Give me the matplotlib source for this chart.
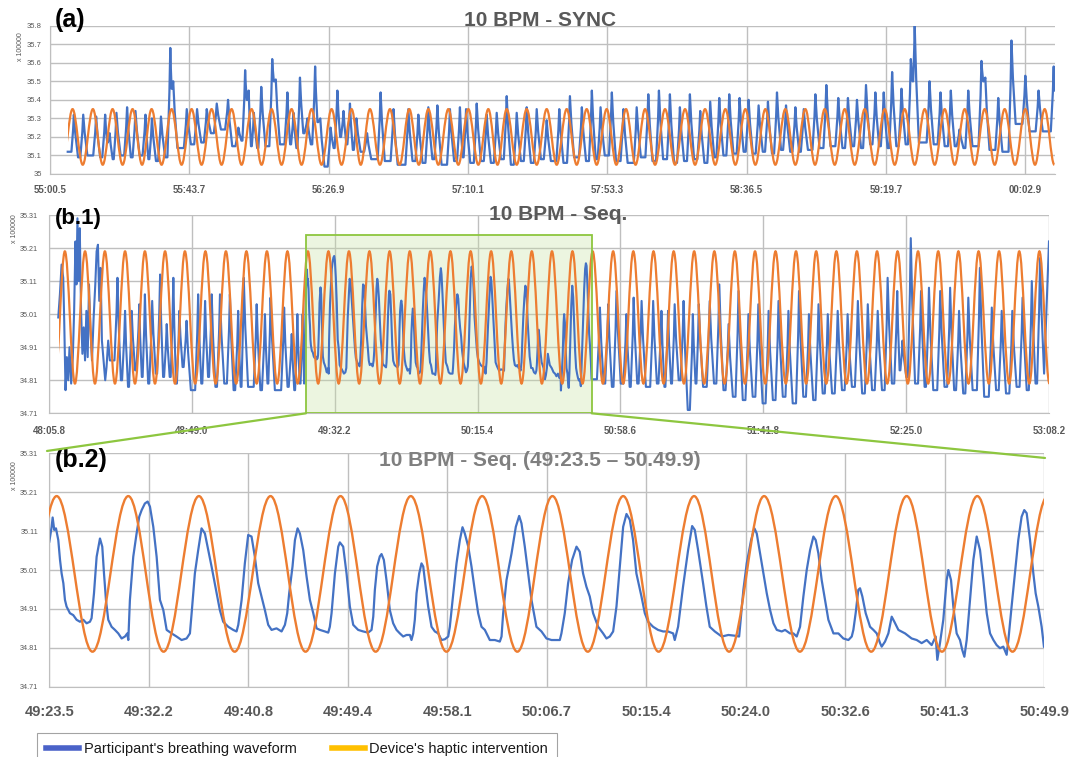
import numpy as np
import matplotlib
matplotlib.use("Agg")
import matplotlib.pyplot as plt
from matplotlib.path import Path
from matplotlib.patches import PathPatch, Rectangle, ConnectionPatch
from matplotlib.lines import Line2D

plt.rcParams['font.family'] = ['Liberation Sans', 'DejaVu Sans']

BLUE = "#4472C4"
ORANGE = "#ED7D31"
GRID = "#BFBFBF"
TXT = "#595959"
GREEN = "#8DC63F"

# -----------------------------------------------------------------------
# Data (seconds from the first tick of each panel, sensor value / 1e5)
# -----------------------------------------------------------------------
# (a) 10 BPM - SYNC, t = 0 at 55:00.5
a_ticks = [0, 43.2, 86.4, 129.6, 172.8, 216.0, 259.2, 302.4]
a_tick_labels = ["55:00.5", "55:43.7", "56:26.9", "57:10.1", "57:53.3",
                 "58:36.5", "59:19.7", "00:02.9"]
a_yticks = [35.0, 35.1, 35.2, 35.3, 35.4, 35.5, 35.6, 35.7, 35.8]
a_ytick_labels = ["35", "35.1", "35.2", "35.3", "35.4", "35.5", "35.6", "35.7", "35.8"]

a_haptic_crests = [7.0, 13.3, 19.4, 25.6, 31.5, 37.7, 43.9, 50.1, 56.3, 62.5,
                   68.7, 74.9, 81.1, 87.3, 93.5, 99.2, 105.4, 111.4, 117.3, 123.5,
                   129.7, 135.9, 141.6, 147.8, 154.0, 160.2, 166.4, 172.6, 178.6, 184.5,
                   190.7, 196.9, 203.1, 209.4, 215.6, 221.8, 228.0, 234.2, 240.2, 246.4,
                   252.6, 258.8, 265.0, 271.2, 277.4, 283.6, 289.8, 296.0, 302.4, 308.4]
a_haptic_hi, a_haptic_lo = 35.35, 35.05
a_haptic_span = (5.5, 311.6)

a_start = (5.5, 35.12)
a_end = (311.6, 35.45)
a_peak_t = [7.4, 10.3, 14.3, 17.1, 18.5, 20.6, 23.9, 26.5, 29.6, 31.6,
            34.4, 37.3, 38.2, 42.4, 45.6, 48.6, 51.7, 55.2, 58.4, 60.5,
            61.6, 63.2, 65.5, 68.9, 70.0, 73.6, 75.5, 77.5, 79.8, 82.2,
            83.8, 87.0, 89.1, 91.0, 93.0, 95.0, 98.3,
            102.5, 106.5, 111.1, 114.2, 117.3, 120.1, 124.0, 127.1, 129.0, 132.3,
            135.4, 138.5, 141.6, 144.7, 147.8, 150.9, 154.0, 157.9, 161.2, 164.9,
            168.0, 170.7, 174.2, 177.8, 181.9, 185.5, 188.8, 192.2, 195.3, 198.4,
            201.6, 204.7, 207.5,
            210.6, 213.8, 216.6, 219.7, 222.6, 225.4, 228.2, 231.1, 233.7, 237.3,
            240.7, 244.4, 247.4, 250.2, 253.0, 255.9, 258.5, 261.1, 264.0, 266.9,
            268.1, 272.7, 276.1, 279.3, 282.0, 284.7, 288.8, 290.0, 294.0, 298.1,
            302.4, 306.5, 311.2]
a_peak_v = [35.32, 35.32, 35.31, 35.32, 35.22, 35.33, 35.36, 35.34, 35.32, 35.30,
            35.31, 35.68, 35.50, 35.35, 35.35, 35.35, 35.38, 35.40, 35.25, 35.56,
            35.45, 35.33, 35.47, 35.62, 35.51, 35.44, 35.33, 35.52, 35.30, 35.58,
            35.30, 35.25, 35.45, 35.34, 35.38, 35.30, 35.22,
            35.44, 35.35, 35.35, 35.32, 35.36, 35.37, 35.35, 35.36, 35.35, 35.38,
            35.32, 35.33, 35.42, 35.33, 35.36, 35.35, 35.29, 35.35, 35.42, 35.36,
            35.45, 35.36, 35.44, 35.35, 35.36, 35.43, 35.45, 35.43, 35.36, 35.43,
            35.34, 35.39, 35.41,
            35.43, 35.41, 35.40, 35.37, 35.39, 35.44, 35.37, 35.36, 35.35, 35.43,
            35.48, 35.41, 35.41, 35.40, 35.48, 35.44, 35.44, 35.55, 35.46, 35.62,
            35.80, 35.50, 35.44, 35.45, 35.24, 35.45, 35.61, 35.52, 35.41, 35.72,
            35.53, 35.45, 35.58]
a_low_v = [35.09, 35.10, 35.09, 35.17, 35.08, 35.10, 35.09, 35.10, 35.08, 35.07,
           35.09, 35.46, 35.14, 35.16, 35.17, 35.22, 35.24, 35.15, 35.18, 35.40,
           35.15, 35.14, 35.15, 35.50, 35.16, 35.16, 35.14, 35.22, 35.16, 35.28,
           35.04, 35.14, 35.20, 35.16, 35.13, 35.12, 35.08,
           35.07, 35.05, 35.07, 35.06, 35.08, 35.05, 35.07, 35.09, 35.06, 35.07,
           35.06, 35.08, 35.05, 35.07, 35.06, 35.08, 35.07, 35.06, 35.09, 35.07,
           35.08, 35.10, 35.07, 35.06, 35.09, 35.07, 35.08, 35.06, 35.07, 35.08,
           35.06, 35.09, 35.10,
           35.11, 35.12, 35.11, 35.12, 35.11, 35.13, 35.12, 35.12, 35.13, 35.14,
           35.15, 35.14, 35.15, 35.14, 35.16, 35.15, 35.14, 35.15, 35.16, 35.50,
           35.17, 35.16, 35.15, 35.15, 35.14, 35.15, 35.50, 35.13, 35.12, 35.27,
           35.23, 35.23, 35.45]

# (b.1) 10 BPM - Seq., t = 0 at 48:05.8
b1_ticks = [0, 43.2, 86.4, 129.6, 172.8, 216.0, 259.2, 302.4]
b1_tick_labels = ["48:05.8", "48:49.0", "49:32.2", "50:15.4", "50:58.6",
                  "51:41.8", "52:25.0", "53:08.2"]
b_yticks = [34.71, 34.81, 34.91, 35.01, 35.11, 35.21, 35.31]

b1_haptic_crests = [4.8, 10.9, 16.9, 23.0, 29.0, 35.1, 41.1, 47.3, 53.5, 59.7,
                    65.9, 72.1, 78.3, 84.5, 90.7, 96.9, 103.0, 109.1, 115.3, 121.4,
                    127.5, 133.7, 139.8, 146.0, 152.1, 158.3, 164.4, 170.6, 176.7, 182.8,
                    188.9, 195.1, 201.2, 207.4, 213.5, 219.7, 225.9, 232.0, 238.1, 244.3,
                    250.4, 256.6, 262.8, 268.9, 275.0, 281.1, 287.3, 293.4, 299.5]
b_haptic_hi, b_haptic_lo = 35.20, 34.80
b1_haptic_span = (3.1, 302.4)

# irregular first seconds of the recording
b1_head_t = [2.8, 3.3, 3.8, 4.3, 4.6, 5.0, 5.4, 5.8, 6.2, 6.7,
             7.2, 7.6, 8.0, 8.3, 8.6, 9.0, 9.3, 9.7, 10.1, 10.5,
             10.9, 11.3, 11.7, 12.1, 12.5, 13.0, 13.5, 14.0, 14.4, 14.8,
             15.2, 15.6, 16.0, 16.5, 17.0, 17.4, 17.9, 18.4]
b1_head_v = [35.00, 35.07, 35.16, 35.12, 34.99, 34.78, 34.88, 34.81, 34.91, 34.80,
             34.88, 35.02, 35.23, 35.10, 35.30, 35.11, 35.27, 35.02, 34.89, 34.97,
             34.87, 35.02, 34.88, 35.10, 34.97, 34.87, 35.00, 35.10, 35.20, 35.22,
             35.05, 35.15, 34.93, 34.87, 34.81, 34.85, 34.93, 34.87]
b1_pre_t = [20.7, 23.0, 25.0, 27.3, 29.0, 31.2, 33.6, 35.6, 37.6, 39.4,
            41.6, 45.1, 47.2, 49.2, 51.7, 54.7, 57.2, 58.9, 62.8, 65.3,
            67.0, 71.1, 73.4, 75.1, 76.7]
b1_pre_v = [35.12, 35.02, 35.02, 35.04, 35.07, 35.05, 35.13, 34.98, 35.12, 35.02,
            34.99, 35.07, 35.05, 35.07, 35.07, 35.07, 35.02, 35.12, 35.04, 35.01,
            35.06, 35.03, 34.95, 35.01, 35.01]
b1_pre_low = [34.81, 34.79, 34.84, 34.82, 34.80, 34.83, 34.82, 34.82, 34.80, 34.85,
              34.78, 34.80, 34.82, 34.79, 34.80, 34.78, 34.79, 34.79, 34.78, 34.80,
              34.78, 34.79, 34.78, 34.80, 34.80]
b1_post_t = [166.6, 169.1, 171.6, 174.6, 176.8, 179.2, 182.7, 185.2, 187.2, 189.2,
             191.9, 194.7, 196.5, 199.8, 202.7, 205.5, 208.5, 211.5, 214.5, 217.6,
             220.6, 223.6, 226.8, 229.8, 232.7, 235.5, 238.5, 241.5, 244.6, 247.6,
             250.6, 253.6, 256.5, 258.1, 260.6, 263.7, 266.1, 269.5, 272.5, 275.2,
             278.0, 281.5, 285.1, 288.1, 291.3, 294.4, 297.2, 299.7]
b1_post_v = [35.03, 35.04, 35.08, 35.01, 35.06, 35.05, 35.05, 35.02, 35.02, 35.04,
             35.05, 35.01, 35.04, 35.05, 35.10, 34.98, 35.08, 35.01, 35.04, 35.02,
             35.05, 35.02, 35.08, 35.01, 35.04, 35.01, 35.02, 35.01, 35.05, 35.04,
             35.02, 35.12, 35.08, 34.93, 35.24, 35.08, 35.09, 35.08, 35.09, 35.02,
             35.06, 35.15, 35.03, 35.02, 35.02, 35.06, 35.11, 35.18]
b1_post_low = [34.80, 34.79, 34.80, 34.79, 34.80, 34.79, 34.80, 34.79, 34.80, 34.81,
               34.72, 34.80, 34.79, 34.80, 34.78, 34.76, 34.75, 34.76, 34.74, 34.75,
               34.76, 34.74, 34.76, 34.75, 34.77, 34.77, 34.78, 34.79, 34.77, 34.78,
               34.78, 34.80, 34.84, 34.82, 34.80, 34.79, 34.78, 34.79, 34.78, 34.77,
               34.78, 34.76, 34.78, 34.77, 34.79, 34.78, 34.80, 34.83]
b1_end = (302.4, 35.23)

# (b.2) zoomed window 49:23.5 - 50:49.9, t = 0 at 49:23.5
b2_offset = 77.7          # 49:23.5 relative to 48:05.8
b2_ticks = [0, 8.64, 17.28, 25.92, 34.56, 43.2, 51.84, 60.48, 69.12, 77.76, 86.4]
b2_tick_labels = ["49:23.5", "49:32.2", "49:40.8", "49:49.4", "49:58.1", "50:06.7",
                  "50:15.4", "50:24.0", "50:32.6", "50:41.3", "50:49.9"]
b2_haptic_crests = [0.64, 6.86, 12.99, 19.21, 25.29, 31.39, 37.59, 43.69, 49.83,
                    55.99, 62.07, 68.29, 74.45, 80.58, 86.7]

b2_blue_t = [0.0, 0.2, 0.29, 0.43, 0.58, 0.78, 0.93, 1.07, 1.22, 1.36,
             1.5, 1.79, 2.08, 2.37, 2.66, 2.95, 3.24, 3.53, 3.67, 3.88,
             4.11, 4.40, 4.60, 4.75, 4.92, 5.12, 5.41, 5.70, 5.99, 6.28,
             6.57, 6.77, 6.86, 7.0, 7.29, 7.58, 7.81, 8.02, 8.30, 8.54,
             8.74, 9.03, 9.32, 9.61, 9.90, 10.19, 10.62, 11.05, 11.49, 11.92,
             12.21, 12.36, 12.64, 12.93, 13.22, 13.51, 13.80, 14.09, 14.53, 14.81,
             15.10, 15.54, 15.97, 16.26, 16.41, 16.70, 16.98, 17.27, 17.56, 17.85,
             18.14, 18.43, 18.72, 19.01, 19.30, 19.73, 20.17, 20.46, 20.66, 20.83,
             21.12, 21.33, 21.56, 21.76, 22.05, 22.34, 22.63, 22.92, 23.21, 23.50,
             23.93, 24.22, 24.36, 24.51, 24.80, 25.09, 25.23, 25.52, 25.81, 26.10,
             26.39, 26.82, 27.26, 27.69, 27.98, 28.13, 28.27, 28.47, 28.70, 28.85,
             29.05, 29.28, 29.57, 29.86, 30.15, 30.44, 30.73, 31.02, 31.31, 31.45,
             31.60, 31.74, 31.89, 32.12, 32.32, 32.47, 32.61, 32.90, 33.19, 33.48,
             33.77, 34.06, 34.35, 34.64, 34.78, 35.02, 35.36, 35.65, 35.88, 36.08,
             36.38, 36.66, 36.94, 37.24, 37.53, 37.82, 38.25, 38.69, 39.12, 39.27,
             39.41, 39.70, 40.14, 40.51, 40.80, 41.00, 41.29, 41.58, 41.87, 42.30,
             42.74, 43.17, 43.61, 44.04, 44.33, 44.47, 44.76, 45.05, 45.40, 45.78,
             46.06, 46.35, 46.64, 46.93, 47.22, 47.66, 48.09, 48.38, 48.67, 48.96,
             49.25, 49.54, 49.83, 50.12, 50.41, 50.69, 50.98, 51.42, 51.71, 52.0,
             52.43, 52.86, 53.30, 53.73, 54.17, 54.31, 54.60, 55.03, 55.47, 55.82,
             56.05, 56.34, 56.77, 57.06, 57.35, 57.79, 58.39, 58.97, 59.55, 59.9,
             59.98, 60.27, 60.56, 60.94, 61.23, 61.43, 61.72, 62.01, 62.30, 62.59,
             62.88, 63.17, 63.60, 63.89, 64.32, 64.61, 64.90, 65.19, 65.48, 65.77,
             66.06, 66.35, 66.55, 66.78, 67.07, 67.36, 67.65, 68.09, 68.52, 68.95,
             69.39, 69.68, 69.82, 70.02, 70.25, 70.40, 70.60, 70.89, 71.27, 71.56,
             71.85, 72.14, 72.28, 72.57, 72.86, 73.15, 73.38, 73.73, 74.31, 74.88,
             75.32, 75.75, 76.19, 76.62, 76.97, 77.11, 77.34, 77.63, 77.92, 78.07,
             78.30, 78.50, 78.79, 79.08, 79.28, 79.46, 79.66, 79.95, 80.24, 80.53,
             80.82, 81.11, 81.40, 81.69, 81.98, 82.26, 82.55, 82.84, 83.13, 83.28,
             83.56, 83.85, 84.14, 84.43, 84.66, 84.87, 85.16, 85.45, 85.65, 85.88,
             86.17, 86.37]
b2_blue_v = [35.083, 35.120, 35.145, 35.113, 35.117, 35.087, 35.036, 35.001, 34.976, 34.933,
             34.916, 34.899, 34.894, 34.882, 34.877, 34.882, 34.873, 34.877, 34.886, 34.950,
             35.044, 35.091, 35.070, 35.001, 34.933, 34.882, 34.864, 34.856, 34.847, 34.834,
             34.839, 34.847, 34.830, 34.933, 35.044, 35.104, 35.147, 35.164, 35.181, 35.186,
             35.173, 35.121, 35.044, 34.933, 34.907, 34.856, 34.847, 34.839, 34.830, 34.834,
             34.847, 34.899, 35.001, 35.061, 35.117, 35.104, 35.061, 35.019, 34.950, 34.907,
             34.877, 34.864, 34.856, 34.852, 34.869, 34.933, 35.027, 35.100, 35.096, 35.044,
             34.976, 34.942, 34.907, 34.869, 34.856, 34.860, 34.852, 34.869, 34.899, 34.950,
             35.019, 35.087, 35.117, 35.104, 35.061, 34.993, 34.933, 34.899, 34.860, 34.856,
             34.852, 34.849, 34.864, 34.899, 35.001, 35.070, 35.081, 35.070, 35.001, 34.916,
             34.869, 34.856, 34.852, 34.849, 34.856, 34.890, 34.959, 35.019, 35.045, 35.051,
             35.036, 34.984, 34.907, 34.873, 34.856, 34.847, 34.839, 34.843, 34.843, 34.830,
             34.847, 34.882, 34.950, 35.001, 35.027, 35.019, 34.984, 34.916, 34.864, 34.852,
             34.847, 34.830, 34.832, 34.839, 34.864, 34.933, 35.027, 35.087, 35.120, 35.104,
             35.070, 35.019, 34.959, 34.899, 34.864, 34.856, 34.830, 34.830, 34.826, 34.839,
             34.899, 34.984, 35.053, 35.121, 35.149, 35.130, 35.070, 35.001, 34.933, 34.864,
             34.852, 34.834, 34.830, 34.830, 34.830, 34.847, 34.899, 34.976, 35.036, 35.070,
             35.057, 35.001, 34.967, 34.942, 34.899, 34.864, 34.847, 34.834, 34.839, 34.852,
             34.916, 35.019, 35.121, 35.154, 35.139, 35.087, 35.001, 34.942, 34.899, 34.877,
             34.864, 34.856, 34.852, 34.852, 34.847, 34.830, 34.864, 34.967, 35.061, 35.123,
             35.113, 35.061, 34.976, 34.916, 34.864, 34.852, 34.839, 34.843, 34.841, 34.839,
             34.864, 34.959, 35.027, 35.087, 35.117, 35.104, 35.053, 35.001, 34.950, 34.907,
             34.873, 34.856, 34.852, 34.856, 34.847, 34.847, 34.839, 34.864, 34.942, 35.010,
             35.061, 35.096, 35.087, 35.053, 34.984, 34.933, 34.882, 34.847, 34.847, 34.834,
             34.830, 34.839, 34.856, 34.899, 34.959, 34.963, 34.942, 34.899, 34.864, 34.856,
             34.847, 34.822, 34.813, 34.826, 34.847, 34.890, 34.877, 34.856, 34.847, 34.834,
             34.830, 34.822, 34.830, 34.817, 34.839, 34.779, 34.822, 34.882, 34.984, 35.010,
             34.984, 34.916, 34.847, 34.830, 34.804, 34.787, 34.830, 34.933, 35.036, 35.096,
             35.061, 34.984, 34.899, 34.847, 34.830, 34.817, 34.809, 34.813, 34.792, 34.830,
             34.916, 35.001, 35.087, 35.147, 35.164, 35.156, 35.087, 35.001, 34.950, 34.916,
             34.864, 34.813]


# -----------------------------------------------------------------------
# Helpers
# -----------------------------------------------------------------------
def breath_points(start, peak_t, peak_v, low_v, end):
    """Polyline through breath peaks: quick rise, slower fall, flat bottom."""
    ts, vs = [start[0]], [start[1]]
    prev_t, prev_low = start
    nxt = list(peak_t[1:]) + [end[0]]
    for tp, vp, lo, tn in zip(peak_t, peak_v, low_v, nxt):
        rise = min(0.9, 0.4 * (tp - prev_t))
        fall = min(1.3, 0.45 * (tn - tp))
        ts += [tp - rise, tp - 0.3 * rise, tp, tp + 0.35 * fall, tp + fall]
        vs += [prev_low, prev_low + 0.6 * (vp - prev_low), vp,
               lo + 0.55 * (vp - lo), lo]
        prev_t, prev_low = tp, lo
    ts.append(end[0])
    vs.append(end[1])
    return ts, vs


def haptic_curve(ax, crests, hi, lo, span, lw=1.6):
    """Smooth crest-trough-crest curve drawn as cubic Bezier segments."""
    c = list(crests)
    ext_t = [c[0] - (c[1] - c[0]) / 2]
    ext_v = [lo]
    for i, tc in enumerate(c):
        ext_t.append(tc)
        ext_v.append(hi)
        ext_t.append((tc + c[i + 1]) / 2 if i + 1 < len(c) else tc + (c[-1] - c[-2]) / 2)
        ext_v.append(lo)
    k = 0.3634
    verts = [(ext_t[0], ext_v[0])]
    codes = [Path.MOVETO]
    for ta, va, tb, vb in zip(ext_t[:-1], ext_v[:-1], ext_t[1:], ext_v[1:]):
        d = tb - ta
        verts += [(ta + k * d, va), (tb - k * d, vb), (tb, vb)]
        codes += [Path.CURVE4] * 3
    patch = PathPatch(Path(verts, codes), fill=False, edgecolor=ORANGE,
                      lw=lw, zorder=3, capstyle="butt")
    ax.add_patch(patch)
    # clip to where the signal was recorded, inside the axes range
    x0 = max(span[0], ax.get_xlim()[0])
    x1 = min(span[1], ax.get_xlim()[1])
    y0, y1 = ax.get_ylim()
    patch.set_clip_path(Rectangle((x0, y0 - 0.05), x1 - x0, (y1 - y0) + 0.1,
                                  transform=ax.transData))


def style_axes(ax, xlim, ylim, xticks, xlabels, yticks, ylabels,
               xfs, xpad, yfs, ypad):
    ax.set_xlim(*xlim)
    ax.set_ylim(*ylim)
    ax.set_xticks(xticks)
    ax.set_xticklabels(xlabels, fontsize=xfs, fontweight="bold", color=TXT)
    ax.set_yticks(yticks)
    ax.set_yticklabels(ylabels, fontsize=yfs, color=TXT)
    ax.tick_params(axis="x", length=0, pad=xpad)
    ax.tick_params(axis="y", length=0, pad=ypad)
    ax.grid(True, color=GRID, lw=1.0)
    ax.set_axisbelow(True)
    for s in ax.spines.values():
        s.set_visible(False)
    ax.spines["bottom"].set_visible(True)
    ax.spines["bottom"].set_color(GRID)
    ax.spines["left"].set_visible(True)
    ax.spines["left"].set_color(GRID)


# -----------------------------------------------------------------------
# Figure
# -----------------------------------------------------------------------
W, H = 1072, 757
fig = plt.figure(figsize=(W / 100, H / 100), dpi=100)


def px_axes(left, top, right, bottom):
    return fig.add_axes([left / W, 1 - bottom / H, (right - left) / W, (bottom - top) / H])


ax_a = px_axes(50, 25.7, 1055, 174)
ax_b1 = px_axes(49, 215, 1049, 413.3)
ax_b2 = px_axes(49.3, 453.3, 1044.3, 686.7)

b_ylabels = [f"{y:.2f}" for y in b_yticks]
style_axes(ax_a, (0, 311.6), (35.0, 35.8), a_ticks, a_tick_labels,
           a_yticks, a_ytick_labels, 7, 8, 5.5, 6)
style_axes(ax_b1, (0, 302.4), (34.71, 35.31), b1_ticks, b1_tick_labels,
           b_yticks, b_ylabels, 7, 9, 5.2, 8)
style_axes(ax_b2, (0, 86.4), (34.71, 35.31), b2_ticks, b2_tick_labels,
           b_yticks, b_ylabels, 10.5, 13, 5.2, 8)

# ---- (a) --------------------------------------------------------------
ta, va = breath_points(a_start, a_peak_t, a_peak_v, a_low_v, a_end)
ax_a.plot(ta, va, color=BLUE, lw=1.6, zorder=2, solid_joinstyle="round")
haptic_curve(ax_a, a_haptic_crests, a_haptic_hi, a_haptic_lo, a_haptic_span)

# ---- (b.1) ------------------------------------------------------------
pre_t, pre_v = breath_points((b1_head_t[-1], b1_head_v[-1]), b1_pre_t, b1_pre_v,
                             b1_pre_low, (b2_offset, b2_blue_v[0]))
post_t, post_v = breath_points((b2_offset + b2_blue_t[-1], b2_blue_v[-1]), b1_post_t,
                               b1_post_v, b1_post_low, b1_end)
b1_t = (b1_head_t + pre_t[1:-1] + [b2_offset + t for t in b2_blue_t] + post_t[1:])
b1_v = (b1_head_v + pre_v[1:-1] + b2_blue_v + post_v[1:])

ax_b1.plot(b1_t, b1_v, color=BLUE, lw=1.5, zorder=2, solid_joinstyle="round")
haptic_curve(ax_b1, b1_haptic_crests, b_haptic_hi, b_haptic_lo, b1_haptic_span)

ax_b1.add_patch(Rectangle((b2_offset, 34.71), b2_ticks[-1], 0.54, facecolor="#C6E0A0",
                          alpha=0.32, edgecolor="none", zorder=1))
ax_b1.add_patch(Rectangle((b2_offset, 34.71), b2_ticks[-1], 0.54, fill=False,
                          edgecolor=GREEN, lw=1.3, zorder=4))

# ---- (b.2) ------------------------------------------------------------
ax_b2.plot(b2_blue_t, b2_blue_v, color=BLUE, lw=1.6, zorder=2, solid_joinstyle="round")
haptic_curve(ax_b2, b2_haptic_crests, b_haptic_hi, b_haptic_lo, (-1, 87), lw=1.7)

# connector lines from the highlighted window to the zoomed panel
for xa, xb in [((b2_offset, 34.71), (-0.0023, 1.01)),
               ((b2_offset + b2_ticks[-1], 34.71), (1.0007, 0.98))]:
    con = ConnectionPatch(xyA=xa, coordsA=ax_b1.transData, xyB=xb,
                          coordsB=ax_b2.transAxes, color=GREEN, lw=1.6, zorder=10)
    fig.add_artist(con)

# ---- titles and labels -----------------------------------------------
fig.text(540 / W, 1 - 20 / H, "10 BPM - SYNC", ha="center", va="center",
         fontsize=15, fontweight="bold", color=TXT)
fig.text(558 / W, 1 - 215 / H, "10 BPM - Seq.", ha="center", va="center",
         fontsize=15, fontweight="bold", color=TXT)
fig.text(540 / W, 1 - 460 / H, "10 BPM - Seq. (49:23.5 \u2013 50.49.9)", ha="center",
         va="center", fontsize=15, fontweight="bold", color="#7F7F7F")

fig.text(55 / W, 1 - 20 / H, "(a)", ha="left", va="center", fontsize=18,
         fontweight="bold", color="black")
fig.text(55 / W, 1 - 218 / H, "(b.1)", ha="left", va="center", fontsize=16,
         fontweight="bold", color="black")
fig.text(55 / W, 1 - 460 / H, "(b.2)", ha="left", va="center", fontsize=18,
         fontweight="bold", color="black")

for x, y in [(20, 47), (14.5, 229), (15, 476)]:
    fig.text(x / W, 1 - y / H, "x 100000", rotation=90, ha="center", va="center",
             fontsize=5, color=TXT)

# ---- legend -----------------------------------------------------------
handles = [Line2D([], [], color="#4A62C8", lw=4),
           Line2D([], [], color="#FFC000", lw=4)]
leg = fig.legend(handles, ["Participant's breathing waveform", "Device's haptic intervention"],
                 loc="upper left", bbox_to_anchor=(37 / W, 1 - 733 / H), ncol=2,
                 frameon=True, fancybox=False, edgecolor="#8C8C8C", fontsize=10.5,
                 handlelength=2.3, handletextpad=0.3, columnspacing=2.4,
                 borderpad=0.6, borderaxespad=0)
leg.get_frame().set_linewidth(0.8)
for t in leg.get_texts():
    t.set_color("#1A1A1A")

fig.savefig("out.png", dpi=100)
